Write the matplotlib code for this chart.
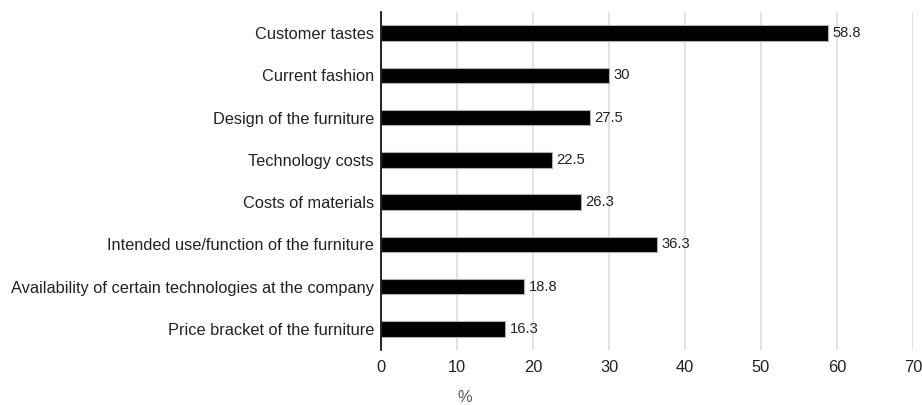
import matplotlib
matplotlib.use("Agg")
import matplotlib.pyplot as plt

categories = [
    "Customer tastes",
    "Current fashion",
    "Design of the furniture",
    "Technology costs",
    "Costs of materials",
    "Intended use/function of the furniture",
    "Availability of certain technologies at the company",
    "Price bracket of the furniture",
]
values = [58.8, 30, 27.5, 22.5, 26.3, 36.3, 18.8, 16.3]
value_labels = ["58.8", "30", "27.5", "22.5", "26.3", "36.3", "18.8", "16.3"]
xticks = [0, 10, 20, 30, 40, 50, 60, 70]

plt.rcParams['font.family'] = ['Liberation Sans', 'DejaVu Sans']

fig = plt.figure(figsize=(9.22, 4.05), dpi=100)
top_px, bot_px = 12, 350
ax = fig.add_axes([381/922, 1-bot_px/405, (913-381)/922, (bot_px-top_px)/405])

ypos = list(range(len(categories)))
ax.barh(ypos, values, height=0.37, color='black', edgecolor='#b0b0b0', linewidth=0.8, zorder=3)
for y, v, lab in zip(ypos, values, value_labels):
    ax.text(v + 0.6, y, lab, va='center', ha='left', fontsize=10.6, color='#222222', zorder=4)

ax.set_ylim(len(categories) - 0.5, -0.5)
ax.set_xlim(0, 70)
ax.set_yticks(ypos)
ax.set_yticklabels(categories, fontsize=11.8, color='#222222')
ax.set_xticks(xticks)
ax.set_xticklabels([str(t) for t in xticks], fontsize=11.8, color='#222222')
ax.tick_params(axis='both', length=0)
ax.tick_params(axis='y', pad=5)
ax.tick_params(axis='x', pad=7)
ax.grid(axis='x', color='#dddddd', linewidth=1.2, zorder=0)
for s in ['top', 'right', 'bottom']:
    ax.spines[s].set_visible(False)
ax.spines['left'].set_color('black')
ax.spines['left'].set_linewidth(1.2)
ax.spines['left'].set_zorder(5)
ax.set_xlabel('%', fontsize=11.8, color='#555555')
ax.xaxis.set_label_coords((465-381)/(913-381), -(390-bot_px)/(bot_px-top_px))

fig.savefig('out.png', dpi=100)
